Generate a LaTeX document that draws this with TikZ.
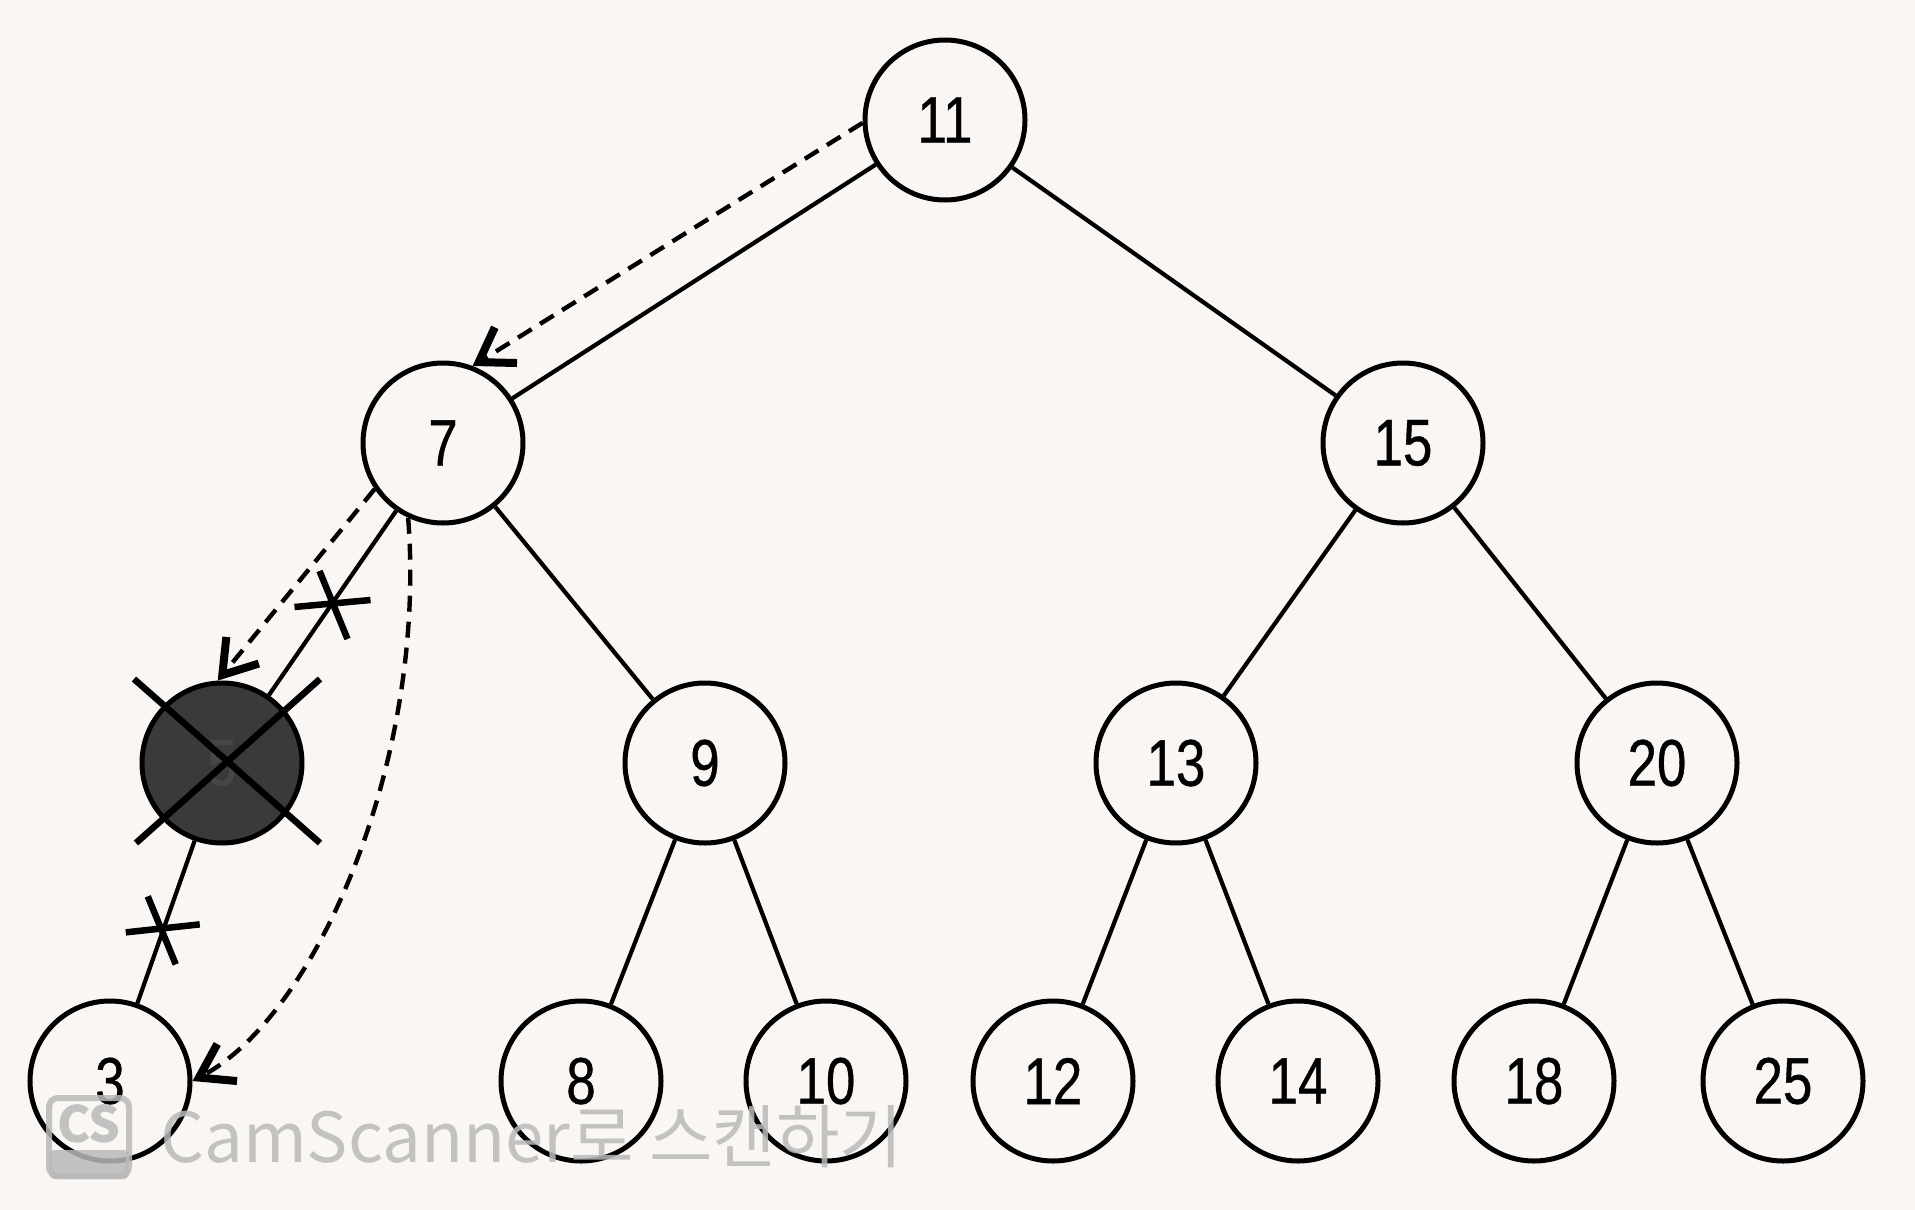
\documentclass[tikz,border=0pt]{standalone}
\usepackage{fontspec}
\setmainfont{Liberation Sans}[FakeStretch=0.8,FakeBold=0.6]
\newfontfamily\krfont{Noto Sans CJK KR}
\usetikzlibrary{arrows.meta,calc}
\definecolor{paper}{RGB}{249,246,244}
\definecolor{darknode}{RGB}{58,58,58}
\definecolor{wmark}{RGB}{185,185,185}
\begin{document}
\begin{tikzpicture}[x=1pt,y=-1pt,
  tnode/.style={circle,draw=black,line width=5pt,fill=paper,minimum size=160pt,inner sep=0pt,font=\fontsize{66}{66}\selectfont},
  tedge/.style={line width=4.2pt},
  darrow/.style={line width=4.4pt,dash pattern=on 16pt off 10pt,-{Straight Barb[length=32pt,width=42pt,line width=8pt]}},
  xmark/.style={line width=6.5pt},
]
\fill[paper] (0,0) rectangle (1915,1210);
\useasboundingbox (0,0) rectangle (1915,1210);

\node[tnode] (n11) at (945,120) {11};
\node[tnode] (n7) at (443,443) {7};
\node[tnode] (n15) at (1403,443) {15};
\node[tnode,fill=darknode,text=black!72] (n5) at (222,763) {5};
\node[tnode] (n9) at (705,763) {9};
\node[tnode] (n13) at (1176,763) {13};
\node[tnode] (n20) at (1657,763) {20};
\node[tnode] (n3) at (110,1081) {3};
\node[tnode] (n8) at (581,1081) {8};
\node[tnode] (n10) at (826,1081) {10};
\node[tnode] (n12) at (1053,1081) {12};
\node[tnode] (n14) at (1298,1081) {14};
\node[tnode] (n18) at (1534,1081) {18};
\node[tnode] (n25) at (1783,1081) {25};

\draw[tedge] (n11) -- (n7);
\draw[tedge] (n11) -- (n15);
\draw[tedge] (n7) -- (n5);
\draw[tedge] (n7) -- (n9);
\draw[tedge] (n15) -- (n13);
\draw[tedge] (n15) -- (n20);
\draw[tedge] (n5) -- (n3);
\draw[tedge] (n9) -- (n8);
\draw[tedge] (n9) -- (n10);
\draw[tedge] (n13) -- (n12);
\draw[tedge] (n13) -- (n14);
\draw[tedge] (n20) -- (n18);
\draw[tedge] (n20) -- (n25);

% dashed arrows
\draw[darrow] (n11.182) -- (n7.69);
\draw[darrow] (n7.214) -- (n5.93);
\draw[darrow] (n7.245) .. controls (427,757) and (318,1014) .. (n3.0);

% cross marks
\coordinate (cA) at ($(n7)!0.5!(n5)$);
\coordinate (cB) at ($(n5)!0.52!(n3)$);
\draw[xmark] ($(cA)+(-38,4)$) -- ($(cA)+(38,-3)$);
\draw[xmark] ($(cA)+(-13,-32)$) -- ($(cA)+(15,36)$);
\draw[xmark] ($(cB)+(-38,4)$) -- ($(cB)+(36,-4)$);
\draw[xmark] ($(cB)+(-16,-32)$) -- ($(cB)+(12,36)$);
\draw[xmark] ($(n5)+(-88,-84)$) -- ($(n5)+(98,80)$);
\draw[xmark] ($(n5)+(-86,80)$) -- ($(n5)+(98,-84)$);

% watermark
\begin{scope}[opacity=0.85]
\draw[wmark,line width=6pt,rounded corners=9pt] (49,1098) rectangle (129,1176);
\fill[wmark,rounded corners=6pt] (49,1150) rectangle (129,1179);
\node[text=wmark,font=\krfont\bfseries\fontsize{50}{50}\selectfont,inner sep=0pt] (cs) at (89,1124) {CS};
\node[text=wmark,anchor=base west,inner sep=0pt,font=\krfont\fontsize{69}{69}\selectfont] (wm) at (160,1162) {CamScanner로 스캔하기};
\end{scope}
\end{tikzpicture}
\end{document}
